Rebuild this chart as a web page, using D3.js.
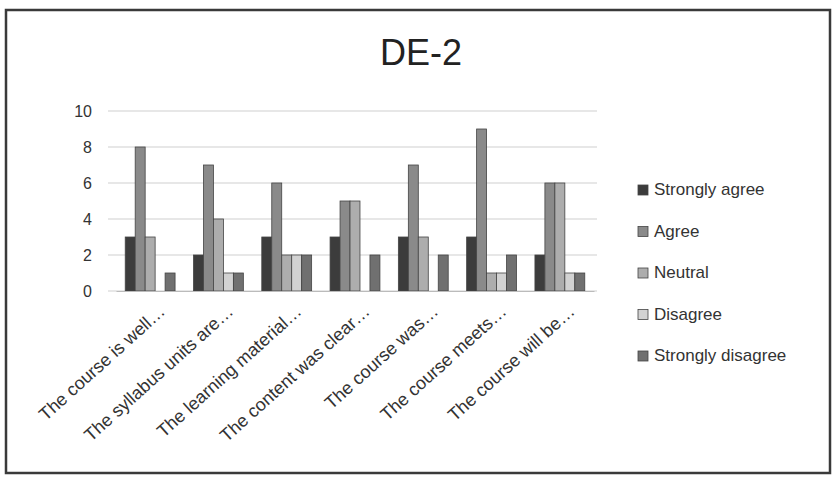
<!DOCTYPE html>
<html><head><meta charset="utf-8">
<script src="https://cdn.jsdelivr.net/npm/d3@7"></script>
<style>body{margin:0;background:#fff}svg{display:block}</style>
</head><body>
<svg id="c" width="832" height="477"></svg>
<script>
const categories = ["The course is well…","The syllabus units are…","The learning material…","The content was clear…","The course was…","The course meets…","The course will be…"];
const seriesNames = ["Strongly agree","Agree","Neutral","Disagree","Strongly disagree"];
const stronglyAgree    = [3,2,3,3,3,3,2];
const agree            = [8,7,6,5,7,9,6];
const neutral          = [3,4,2,5,3,1,6];
const disagree         = [0,1,2,0,0,1,1];
const stronglyDisagree = [1,1,2,2,2,2,1];
const yTicks = [0,2,4,6,8,10];
const seriesValues = [stronglyAgree, agree, neutral, disagree, stronglyDisagree];
const colors = ["#3c3c3c","#8a8a8a","#adadad","#d2d2d2","#707070"];

const svg = d3.select("#c");
svg.append("rect").attr("x",6).attr("y",10).attr("width",824).attr("height",463)
  .attr("fill","#fff").attr("stroke","#3a3a3a").attr("stroke-width",2.5);

svg.append("text").attr("x",421).attr("y",65).attr("text-anchor","middle")
  .attr("font-family","Liberation Sans, Arial, sans-serif").attr("font-size",36).attr("fill","#222").text("DE-2");

const x0 = d3.scaleBand().domain(categories).range([116,594]).paddingInner(0.27).paddingOuter(0.135);
const x1 = d3.scaleBand().domain(seriesNames).range([0,x0.bandwidth()]);
const y = d3.scaleLinear().domain([0,10]).range([291,111]);

const grid = svg.append("g");
grid.selectAll("line").data(yTicks).join("line")
  .attr("x1",108).attr("x2",597).attr("y1",d=>y(d)).attr("y2",d=>y(d))
  .attr("stroke","#cfcfcf").attr("stroke-width",1.2);

const yAxis = svg.append("g").attr("transform","translate(100,0)")
  .call(d3.axisLeft(y).tickValues(yTicks).tickSize(0).tickPadding(8));
yAxis.select(".domain").remove();
yAxis.selectAll("text").attr("font-family","Liberation Sans, Arial, sans-serif").attr("font-size",16).attr("fill","#333");

const groups = svg.append("g").selectAll("g").data(categories).join("g")
  .attr("transform",c=>`translate(${x0(c)},0)`);
groups.selectAll("rect").data((c,i)=>seriesNames.map((s,j)=>({s,v:seriesValues[j][i],j})))
  .join("rect")
  .attr("x",d=>x1(d.s)).attr("width",x1.bandwidth())
  .attr("y",d=>y(d.v)).attr("height",d=>y(0)-y(d.v))
  .attr("fill",d=>colors[d.j]).attr("stroke",d=>d.v>0?"#444":"none").attr("stroke-width",0.8);

const xAxis = svg.append("g").attr("transform","translate(0,291)")
  .call(d3.axisBottom(x0).tickSize(0).tickPadding(0));
xAxis.select(".domain").attr("stroke","#bbb");
xAxis.selectAll("text")
  .attr("font-family","Liberation Sans, Arial, sans-serif").attr("font-size",18).attr("fill","#333")
  .attr("text-anchor","end").attr("dy","0").attr("y",0).attr("x",0)
  .attr("transform","translate(16,22) rotate(-42)");

const legend = svg.append("g");
const li = legend.selectAll("g").data(seriesNames).join("g")
  .attr("transform",(d,i)=>`translate(638,${195+i*41.5})`);
li.append("rect").attr("x",0).attr("y",-10).attr("width",10).attr("height",10)
  .attr("fill",(d,i)=>colors[i]).attr("stroke","#444").attr("stroke-width",0.8);
li.append("text").attr("x",16).attr("y",0)
  .attr("font-family","Liberation Sans, Arial, sans-serif").attr("font-size",17).attr("fill","#333")
  .text(d=>d);
</script>
</body></html>
